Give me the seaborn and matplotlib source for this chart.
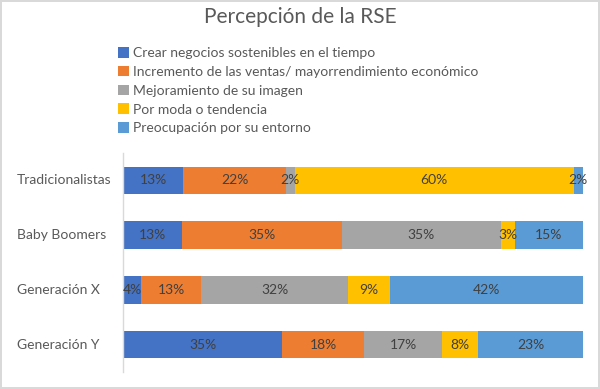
import numpy as np
import pandas as pd
import seaborn as sns
import matplotlib.pyplot as plt
from matplotlib.patches import Patch
from matplotlib.transforms import blended_transform_factory

# data (percent per generation)
generaciones = ["Tradicionalistas", "Baby Boomers", "Generación X", "Generación Y"]
motivos = [
    "Crear negocios sostenibles en el tiempo",
    "Incremento de las ventas/ mayorrendimiento económico",
    "Mejoramiento de su imagen",
    "Por moda o tendencia",
    "Preocupación por su entorno",
]
crear = [13, 13, 4, 35]
ventas = [22, 35, 13, 18]
imagen = [2, 35, 32, 17]
moda = [60, 3, 9, 8]
entorno = [2, 15, 42, 23]
colores = ["#4472C4", "#ED7D31", "#A5A5A5", "#FFC000", "#5B9BD5"]

sns.set_style("white")
plt.rcParams["font.family"] = ["Lato", "DejaVu Sans"]

vals = np.array([crear, ventas, imagen, moda, entorno], dtype=float)
# 100% stacked: normalise each generation
share = vals / vals.sum(axis=0) * 100
cum = share.cumsum(axis=0)

fig = plt.figure(figsize=(6, 3.89), dpi=100)
fig.patch.set_edgecolor("#D9D9D9")
fig.patch.set_linewidth(1.5)
ax = fig.add_axes([123 / 600, 1 - 372 / 389, 460 / 600, 219 / 389])

# draw widest cumulative bar first, then overlay the shorter ones
for i in range(len(motivos) - 1, -1, -1):
    df = pd.DataFrame({"gen": generaciones, "x": cum[i]})
    sns.barplot(data=df, x="x", y="gen", order=generaciones, color=colores[i],
                saturation=1, width=0.5, errorbar=None, linewidth=0, ax=ax)

# segment labels
for i in range(len(motivos)):
    for j in range(len(generaciones)):
        left = cum[i, j] - share[i, j]
        ax.text(left + share[i, j] / 2, j, f"{int(vals[i, j])}%", ha="center", va="center",
                fontsize=10, color="#404040")

ax.set_xlim(0, 100)
ax.set_ylim(3.5, -0.5)
ax.set_xlabel("")
ax.set_ylabel("")
ax.set_xticks([])
ax.set_yticklabels([])
ax.tick_params(axis="y", length=0)
for s in ["top", "right", "bottom"]:
    ax.spines[s].set_visible(False)
ax.spines["left"].set_color("#D9D9D9")
ax.spines["left"].set_linewidth(1)

# left-aligned category labels
tr = blended_transform_factory(fig.transFigure, ax.transData)
for j, g in enumerate(generaciones):
    ax.text(17 / 600, j, g, transform=tr, ha="left", va="center", fontsize=10, color="#595959")

fig.text(0.5, 1 - 17 / 389, "Percepción de la RSE", ha="center", va="center",
         fontsize=15, color="#595959")

handles = [Patch(facecolor=c, edgecolor="none") for c in colores]
leg = fig.legend(handles, motivos, loc="upper left", bbox_to_anchor=(118 / 600, 1 - 47 / 389),
                 frameon=False, fontsize=10, handlelength=0.8, handleheight=0.8,
                 handletextpad=0.25, labelspacing=0.48, borderpad=0, borderaxespad=0)
for t in leg.get_texts():
    t.set_color("#595959")

fig.savefig("out.png", dpi=100, edgecolor=fig.get_edgecolor())
